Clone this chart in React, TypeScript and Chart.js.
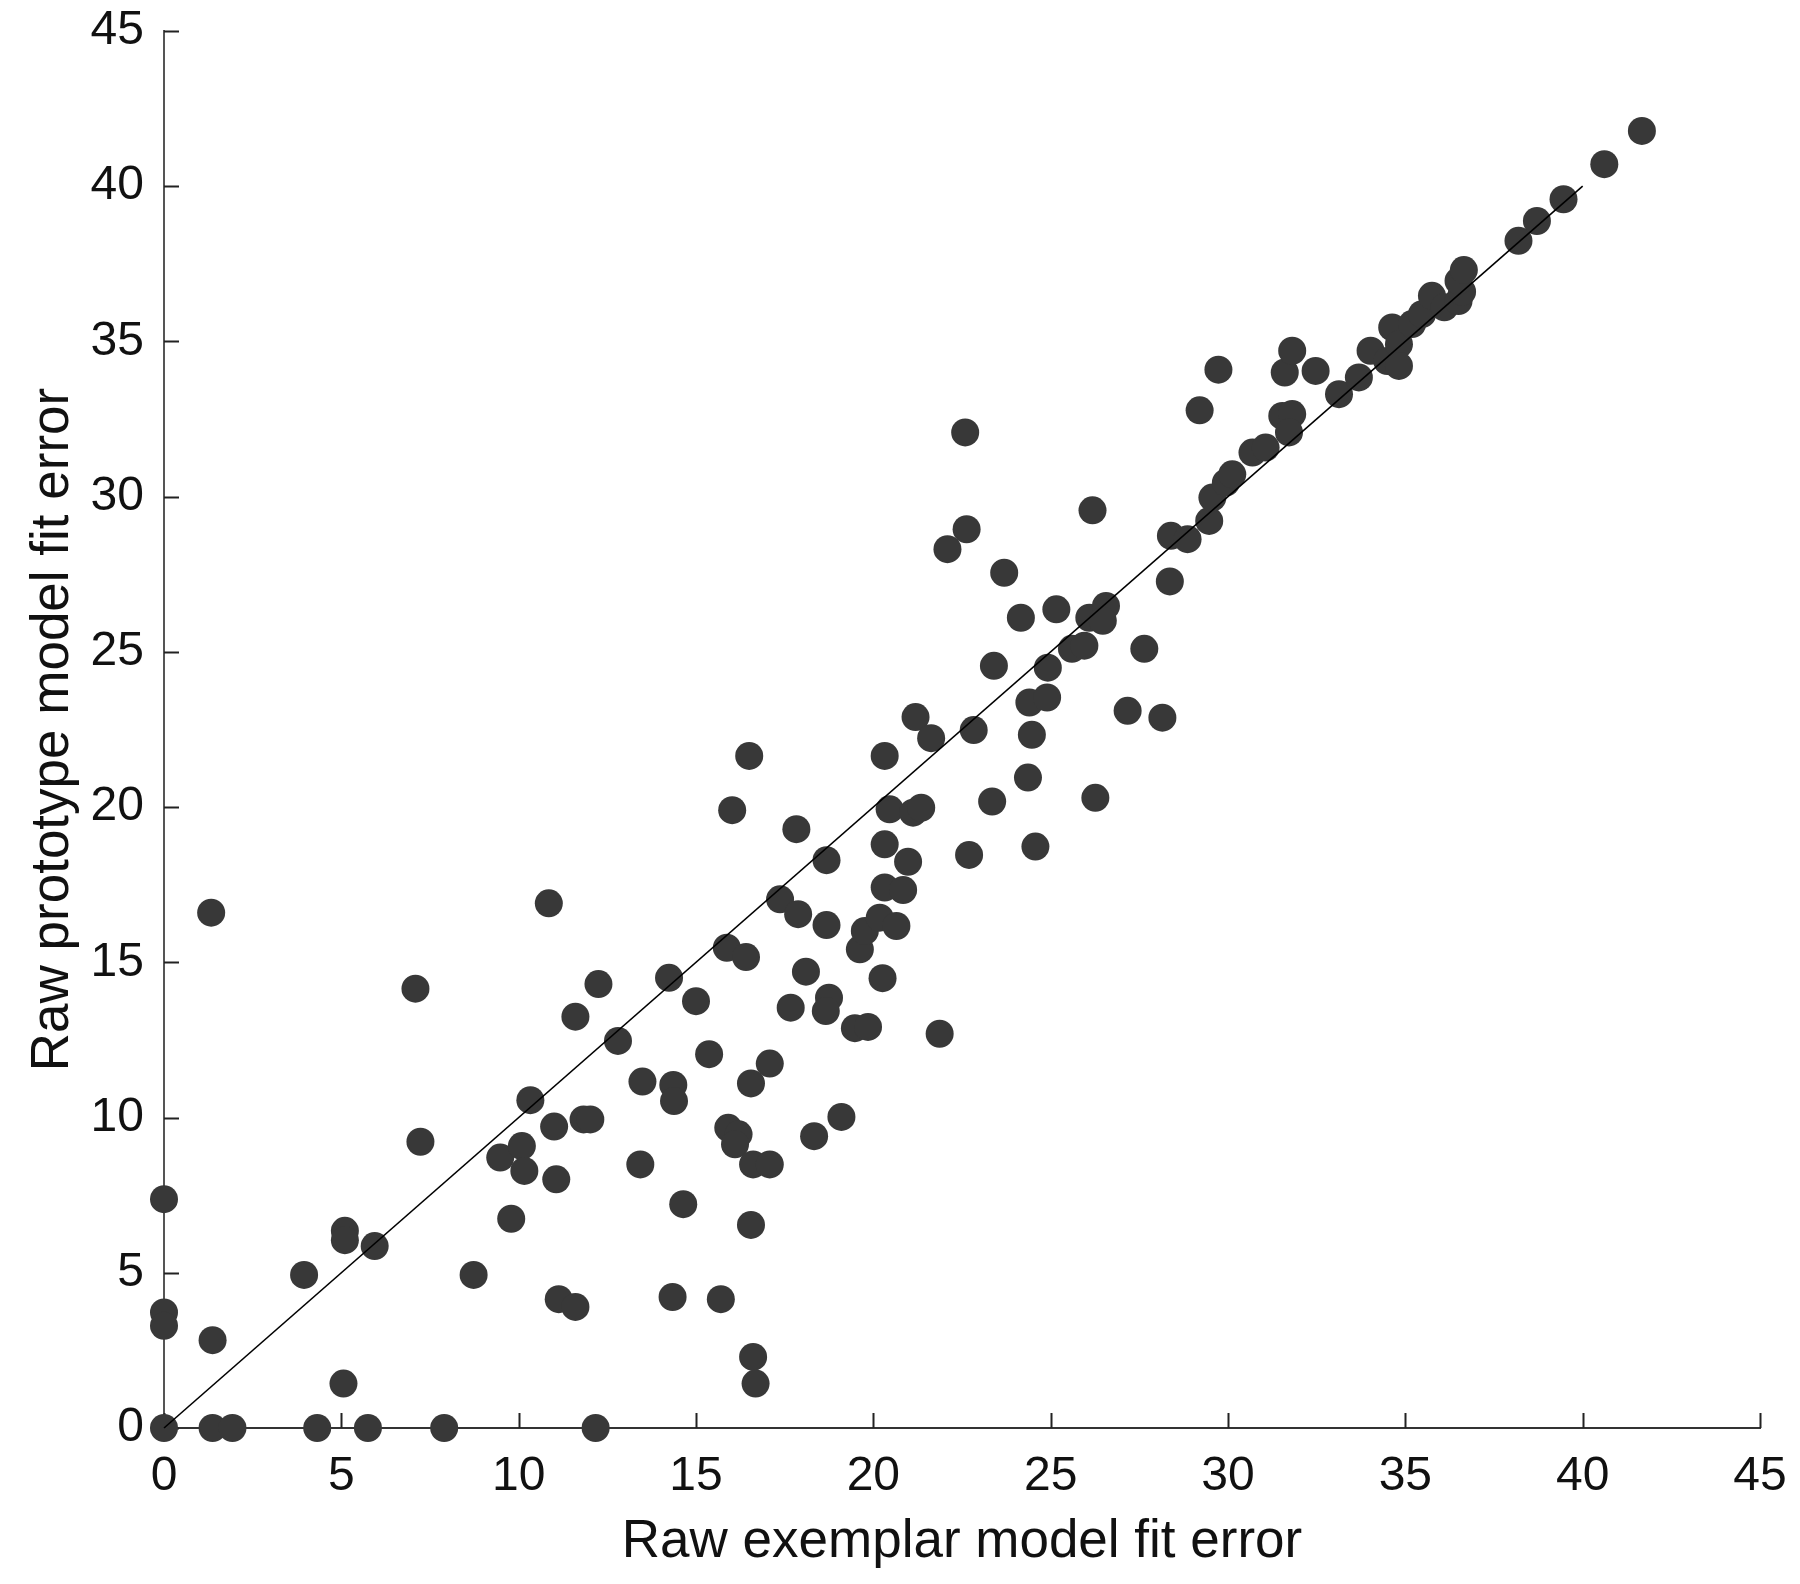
import React, { useEffect, useRef } from "react";
import { Chart, registerables } from "chart.js";

Chart.register(...registerables);

// Raw exemplar model fit error (x) for each participant
const exemplarError: number[] = [
  0, 1.37, 1.93, 4.32, 5.75, 7.9, 12.17,
  0, 0, 0, 1.37, 1.33, 3.95, 5.06, 5.1, 5.1, 5.94, 8.73,
  7.09, 7.23, 9.48, 10.09, 10.16, 9.79, 10.33, 11.06, 11.0, 10.85,
  11.13, 11.6, 11.6, 11.83, 12.02, 12.25, 12.8, 13.43, 13.49, 14.24,
  14.36, 14.38, 14.34, 14.64, 15.0, 15.37, 15.7, 15.87, 16.41, 15.91,
  16.2, 16.1, 16.02, 16.5, 16.55, 16.55, 16.61, 16.61, 16.68, 17.08,
  17.08, 17.37, 17.67, 17.83, 17.88, 18.1, 18.33, 18.68, 18.68, 18.75,
  18.66, 19.1, 19.48, 19.85, 19.62, 19.76, 20.18, 20.65, 20.26, 20.32,
  20.32, 20.32, 20.84, 20.46, 20.98, 21.19, 21.12, 21.35, 21.63, 21.87,
  22.09, 22.59, 22.63, 22.7, 22.83, 23.35, 23.4, 23.69, 24.16, 24.36,
  24.4, 24.9, 24.47, 24.57, 24.92, 25.16, 25.6, 25.95, 26.09, 26.56,
  26.47, 26.18, 26.26, 27.17, 27.64, 28.15, 28.36, 28.39, 28.86, 29.2,
  29.47, 29.56, 29.94, 30.12, 29.73, 30.69, 31.06, 31.53, 31.81, 31.72,
  31.6, 31.81, 32.47, 33.13, 33.69, 34.02, 34.49, 34.63, 34.82, 34.82,
  35.19, 35.47, 35.75, 36.1, 36.5, 36.6, 36.5, 36.65, 38.19, 38.71,
  39.46, 40.61, 41.67,
];

// Raw prototype model fit error (y) for each participant
const prototypeError: number[] = [
  0, 0, 0, 0, 0, 0, 0,
  7.37, 3.72, 3.29, 2.83, 16.6, 4.93, 1.43, 6.35, 6.05, 5.86, 4.93,
  14.15, 9.22, 8.71, 9.08, 8.28, 6.74, 10.56, 8.01, 9.71, 16.9,
  4.15, 3.9, 13.25, 9.94, 9.94, 14.3, 12.47, 8.49, 11.16, 14.5,
  11.05, 10.53, 4.22, 7.21, 13.75, 12.04, 4.15, 15.47, 15.17, 9.67,
  9.46, 9.14, 19.9, 21.65, 11.1, 6.54, 8.49, 2.29, 1.43, 11.74,
  8.49, 17.03, 13.54, 19.29, 16.55, 14.7, 9.4, 16.2, 18.29, 13.86,
  13.43, 10.02, 12.88, 12.92, 15.42, 16.01, 16.44, 16.17, 14.49, 18.8,
  21.65, 17.41, 17.33, 19.93, 18.24, 22.9, 19.82, 19.98, 22.22, 12.7,
  28.31, 32.07, 28.95, 18.46, 22.48, 20.18, 24.55, 27.55, 26.1, 20.95,
  23.37, 23.53, 22.33, 18.73, 24.49, 26.37, 25.1, 25.2, 26.1, 26.48,
  26.0, 29.56, 20.3, 23.1, 25.1, 22.88, 27.27, 28.74, 28.63, 32.78,
  29.22, 29.97, 30.45, 30.72, 34.09, 31.42, 31.58, 32.6, 32.66, 32.07,
  34.0, 34.7, 34.05, 33.3, 33.84, 34.7, 34.37, 35.45, 34.91, 34.21,
  35.56, 35.88, 36.47, 36.1, 36.3, 36.6, 36.95, 37.3, 38.24, 38.88,
  39.58, 40.71, 41.78,
];

// Identity reference line (x = y)
const identityLine: number[] = [0, 40];

const tickValues: number[] = [0, 5, 10, 15, 20, 25, 30, 35, 40, 45];
const axisMin = 0;
const axisMax = 45;
const xTitle = "Raw exemplar model fit error";
const yTitle = "Raw prototype model fit error";

const FONT = "'Liberation Sans', Arial, Helvetica, sans-serif";

export default function App() {
  const canvasRef = useRef<HTMLCanvasElement | null>(null);

  useEffect(() => {
    const canvas = canvasRef.current;
    if (!canvas) return;

    const points = exemplarError.map((x, i) => ({ x, y: prototypeError[i] }));
    const linePts = identityLine.map((v) => ({ x: v, y: v }));

    const inwardTicks = {
      id: "inwardTicks",
      beforeDatasetsDraw(chart: any) {
        const { ctx, chartArea, scales } = chart;
        const xs = scales.x;
        const ys = scales.y;
        ctx.save();
        ctx.strokeStyle = "#222";
        ctx.lineWidth = 2;
        ctx.beginPath();
        for (const v of tickValues) {
          const px = Math.round(xs.getPixelForValue(v)) + 0.5;
          ctx.moveTo(px, chartArea.bottom);
          ctx.lineTo(px, chartArea.bottom - 15);
          const py = Math.round(ys.getPixelForValue(v)) + 0.5;
          ctx.moveTo(chartArea.left, py);
          ctx.lineTo(chartArea.left + 15, py);
        }
        ctx.stroke();
        ctx.restore();
      },
    };

    const zeroPad = (scale: any) => {
      scale.paddingTop = 0;
      scale.paddingBottom = 0;
      scale.paddingLeft = 0;
      scale.paddingRight = 0;
    };

    const chart = new Chart(canvas, {
      type: "scatter",
      data: {
        datasets: [
          {
            type: "line",
            data: linePts,
            borderColor: "#000000",
            borderWidth: 1.6,
            pointRadius: 0,
            fill: false,
            clip: false,
          } as any,
          {
            data: points,
            backgroundColor: "#383838",
            borderWidth: 0,
            pointRadius: 14,
            pointHoverRadius: 14,
            clip: false,
          } as any,
        ],
      },
      options: {
        animation: false,
        responsive: false,
        devicePixelRatio: 1,
        events: [],
        layout: { padding: { top: 31, right: 40, left: 0, bottom: 0 } },
        plugins: {
          legend: { display: false },
          tooltip: { enabled: false },
        },
        scales: {
          x: {
            type: "linear",
            min: axisMin,
            max: axisMax,
            grid: { display: false },
            border: { display: true, color: "#333", width: 2 },
            ticks: {
              stepSize: 5,
              padding: 12,
              color: "#111",
              maxRotation: 0,
              font: { family: FONT, size: 48 },
            },
            title: {
              display: true,
              text: xTitle,
              color: "#111",
              font: { family: FONT, size: 53 },
              padding: { top: 0, bottom: 10 },
            },
            afterFit(scale: any) {
              scale.height = 156;
              zeroPad(scale);
            },
          },
          y: {
            type: "linear",
            min: axisMin,
            max: axisMax,
            grid: { display: false },
            border: { display: true, color: "#555", width: 2 },
            ticks: {
              stepSize: 5,
              padding: 12,
              color: "#111",
              font: { family: FONT, size: 48 },
            },
            title: {
              display: true,
              text: yTitle,
              color: "#111",
              font: { family: FONT, size: 53 },
              padding: { top: 22, bottom: 0 },
            },
            afterFit(scale: any) {
              scale.width = 164;
              zeroPad(scale);
            },
          },
        },
      } as any,
      plugins: [inwardTicks],
    });

    return () => {
      chart.destroy();
    };
  }, []);

  return (
    <div
      style={{
        position: "absolute",
        left: 0,
        top: 0,
        width: 1800,
        height: 1584,
        background: "#fff",
      }}
    >
      <canvas
        ref={canvasRef}
        width={1800}
        height={1584}
        style={{ display: "block", width: 1800, height: 1584 }}
      />
    </div>
  );
}
